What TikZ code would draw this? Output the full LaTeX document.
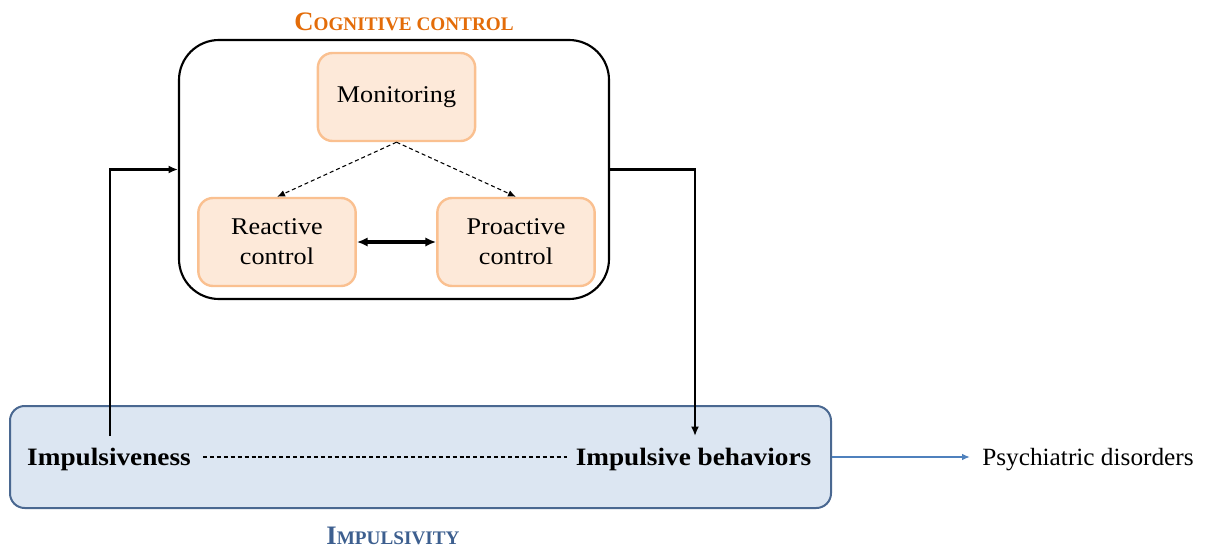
\documentclass[tikz,border=0pt]{standalone}
\usepackage{fontspec}
\setmainfont[FakeStretch=1.09]{Liberation Serif}
\newfontfamily\titlefont{Liberation Serif}
\newfontfamily\psyfont[FakeStretch=1.02]{Liberation Serif}
\usetikzlibrary{arrows.meta}
\definecolor{ofill}{HTML}{FDE9D9}
\definecolor{oline}{HTML}{FAC090}
\definecolor{otitle}{HTML}{E36C09}
\definecolor{bfill}{HTML}{DCE6F2}
\definecolor{bline}{HTML}{4A6891}
\definecolor{btitle}{HTML}{3D5F8F}
\definecolor{barrow}{HTML}{4F81BD}
\tikzset{
  obox/.style={draw=oline, fill=ofill, line width=1.8pt, rounded corners=11pt,
    minimum width=118pt, minimum height=66pt, align=center, inner sep=0pt,
    font=\fontsize{18}{22.5}\selectfont},
  conn/.style={line width=1.9pt, -{Latex[length=7pt,width=6pt]}},
  dconn/.style={line width=0.8pt, dashed, dash pattern=on 3pt off 2.2pt, -{Latex[length=6pt,width=5pt]}},
  lbl/.style={inner sep=0pt, anchor=base},
}
\begin{document}
\begin{tikzpicture}[x=0.75pt,y=-0.75pt]
\useasboundingbox (0,0) rectangle (1211,550);
% title
\node[inner sep=0pt, anchor=base, text=otitle] (ctitle) at (404,30)
  {\titlefont\bfseries\fontsize{20}{24}\selectfont C\fontsize{14.4}{17}\selectfont OGNITIVE CONTROL};
% big box
\node[draw=black, line width=1.6pt, rounded corners=30pt, minimum width=322.5pt, minimum height=194.25pt, inner sep=0pt] (cog) at (394,169.5) {};
\node[obox] (mon) at (396.5,97) {Monitoring};
\node[obox] (rea) at (277,242) {Reactive\\control};
\node[obox] (pro) at (516,242) {Proactive\\control};
\draw[dconn] (mon.south) -- (rea.north);
\draw[dconn] (mon.south) -- (pro.north);
\draw[line width=2.4pt, {Latex[length=8pt,width=7pt]}-{Latex[length=8pt,width=7pt]}] (rea.east) -- (pro.west);
% impulsivity box
\node[draw=bline, fill=bfill, line width=1.5pt, rounded corners=11pt, minimum width=615.75pt, minimum height=76.5pt, inner sep=0pt] (imp) at (420.5,457) {};
\node[lbl, font=\bfseries\fontsize{18.75}{22}\selectfont] (ivs) at (109,465) {Impulsiveness};
\node[lbl, font=\bfseries\fontsize{18.75}{22}\selectfont] (ibh) at (693.5,465) {Impulsive behaviors};
\node[lbl, font=\psyfont\fontsize{18.6}{23}\selectfont, anchor=base west] (psy) at (982,465) {Psychiatric disorders};
\node[inner sep=0pt, anchor=base, text=btitle] (ititle) at (393,544)
  {\titlefont\bfseries\fontsize{20}{24}\selectfont I\fontsize{14.4}{17}\selectfont MPULSIVITY};
% connectors
\coordinate (lstart) at (110,436);
\coordinate (rend) at (695,436);
\draw[conn] (lstart) |- (cog.west);
\draw[conn] (cog.east) -| (rend);
\coordinate (dl) at (203,457);
\coordinate (dr) at (567,457);
\draw[line width=0.8pt, dash pattern=on 3pt off 2.2pt] (dl) -- (dr);
\coordinate (parr) at (970,457);
\draw[barrow, line width=1.2pt, -{Latex[length=6pt,width=5pt]}] (imp.east) -- (parr);
\end{tikzpicture}
\end{document}
